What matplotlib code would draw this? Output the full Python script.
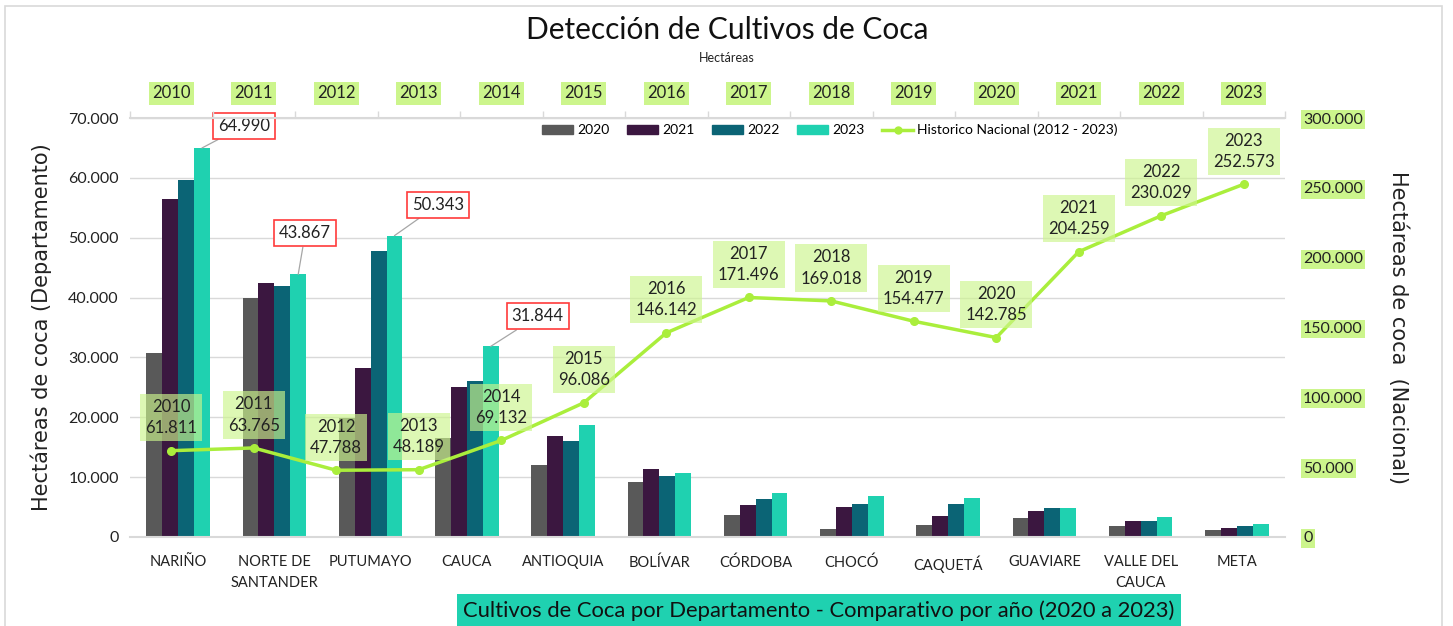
import numpy as np
import matplotlib
matplotlib.use("Agg")
import matplotlib.pyplot as plt
from matplotlib.patches import Rectangle
from matplotlib.lines import Line2D

# ---- data ----
departamentos = ["NARIÑO", "NORTE DE\nSANTANDER", "PUTUMAYO", "CAUCA", "ANTIOQUIA",
                 "BOLÍVAR", "CÓRDOBA", "CHOCÓ", "CAQUETÁ", "GUAVIARE",
                 "VALLE DEL\nCAUCA", "META"]
ha_2020 = [30700, 39900, 19800, 16500, 12000, 9200, 3700, 1300, 2000, 3200, 1800, 1100]
ha_2021 = [56400, 42400, 28200, 25000, 16900, 11400, 5400, 5000, 3500, 4300, 2600, 1500]
ha_2022 = [59700, 41900, 47800, 26100, 16000, 10200, 6300, 5500, 5500, 4800, 2600, 1800]
ha_2023 = [64990, 43867, 50343, 31844, 18700, 10700, 7400, 6800, 6500, 4800, 3300, 2100]

anios = ["2010", "2011", "2012", "2013", "2014", "2015", "2016",
         "2017", "2018", "2019", "2020", "2021", "2022", "2023"]
historico = [61811, 63765, 47788, 48189, 69132, 96086, 146142,
             171496, 169018, 154477, 142785, 204259, 230029, 252573]

series = [("2020", ha_2020, "#595959"), ("2021", ha_2021, "#3b1740"),
          ("2022", ha_2022, "#0b6475"), ("2023", ha_2023, "#1fd1b0")]
LIME = "#aaee3c"
LIME_BG = "#ccf58c"
FONT = "Lato"


def miles(v):
    return f"{v:,.0f}".replace(",", ".")


fig = plt.figure(figsize=(14.53, 6.26), dpi=100)
fig.patches.append(Rectangle((5 / 1453, -0.01), 1437 / 1453, 1 - 6 / 626 + 0.01,
                             transform=fig.transFigure, fill=False,
                             edgecolor="#d9d9d9", lw=1.2))

ax = fig.add_axes([130 / 1453, 1 - 537 / 626, 1155 / 1453, 419 / 626])
ax2 = ax.twinx()
ax3 = ax2.twiny()

# ---- bars (departamentos) ----
x = np.arange(len(departamentos))
w = 0.165
for i, (lab, vals, col) in enumerate(series):
    ax.bar(x + (i - 1.5) * w, vals, w, color=col, label=lab, zorder=2)

ax.set_xlim(-0.5, len(departamentos) - 0.5)
ax.set_ylim(0, 70000)
ax.set_yticks(np.arange(0, 70001, 10000))
ax.set_yticklabels([miles(v) for v in np.arange(0, 70001, 10000)],
                   fontsize=11.5, family=FONT, color="#222222")
ax.set_xticks(x)
ax.set_xticklabels(departamentos, fontsize=10.5, family=FONT, color="#222222",
                   linespacing=1.6)
ax.tick_params(axis="y", length=0, pad=8)
ax.tick_params(axis="x", length=0, pad=13)
ax.grid(axis="y", color="#d9d9d9", lw=1, zorder=0)
for s in ["left", "right", "top"]:
    ax.spines[s].set_visible(False)
ax.spines["bottom"].set_color("#d9d9d9")
ax.spines["bottom"].set_linewidth(1.5)
ax.set_ylabel("Hectáreas de coca (Departamento)", fontsize=15, color="#222222",
              labelpad=12)

# red data labels on 2023 bars
offsets = [(42, -22), (7, -41), (44, -31), (47, -30)]
for k, (dx, dy) in enumerate(offsets):
    xb = x[k] + 1.5 * w
    ax.annotate(miles(ha_2023[k]), xy=(xb, ha_2023[k]),
                xytext=(dx, -dy), textcoords="offset pixels",
                ha="center", va="center",
                fontsize=12, family=FONT, color="#222222",
                bbox=dict(boxstyle="square,pad=0.3", fc="white", ec="#ff3b3b", lw=1.2),
                arrowprops=dict(arrowstyle="-", color="#a6a6a6", lw=0.9,
                                shrinkA=0, shrinkB=0), zorder=5)

# ---- right axis (nacional) ----
ax2.set_ylim(0, 300000)
rticks = np.arange(0, 300001, 50000)
ax2.set_yticks(rticks)
ax2.set_yticklabels([miles(v) for v in rticks], fontsize=11.5, family=FONT,
                    color="#222222")
ax2.tick_params(axis="y", length=0, pad=13)
for lbl in ax2.get_yticklabels():
    lbl.set_bbox(dict(boxstyle="square,pad=0.15", fc=LIME_BG, ec="none"))
for s in ax2.spines.values():
    s.set_visible(False)
ax2.set_ylabel("Hectáreas de coca  (Nacional)", fontsize=15, color="#222222",
               rotation=270, labelpad=33)

# ---- line (historico nacional), top axis ----
xh = np.arange(len(anios))
ax3.set_xlim(-0.5, len(anios) - 0.5)
ax3.plot(xh, historico, color=LIME, lw=2.5, marker="o", ms=5.5,
         label="Historico Nacional (2012 - 2023)", zorder=4)
for xi, (a, v) in enumerate(zip(anios, historico)):
    ax3.annotate(f"{a}\n{miles(v)}", xy=(xi, v), xytext=(0, 33),
                 textcoords="offset pixels", ha="center", va="center",
                 fontsize=12, family=FONT, color="#222222", linespacing=1.4,
                 bbox=dict(boxstyle="square,pad=0.3", fc=LIME_BG, ec="none",
                           alpha=0.65), zorder=6)
ax3.set_xticks(xh)
ax3.set_xticklabels(anios, fontsize=12, family=FONT, color="#222222")
ax3.set_xticks(np.arange(-0.5, len(anios), 1), minor=True)
ax3.tick_params(axis="x", which="major", length=0, pad=12)
ax3.tick_params(axis="x", which="minor", length=5, color="#d9d9d9", width=1)
for lbl in ax3.get_xticklabels():
    lbl.set_bbox(dict(boxstyle="square,pad=0.2", fc=LIME_BG, ec="none"))
for s in ["left", "right", "bottom"]:
    ax3.spines[s].set_visible(False)
ax3.spines["top"].set_color("#d9d9d9")
ax3.spines["top"].set_linewidth(1.5)

# ---- legend ----
handles = [Rectangle((0, 0), 1, 1, color=c) for _, _, c in series]
handles.append(Line2D([], [], color=LIME, lw=2.5, marker="o", ms=5))
labels = [s[0] for s in series] + ["Historico Nacional (2012 - 2023)"]
leg = ax3.legend(handles, labels, loc="center", bbox_to_anchor=(0.606, 0.971),
                 ncol=5, frameon=False, prop={"family": FONT, "size": 10},
                 handlelength=2.2, handleheight=0.7, handletextpad=0.3,
                 columnspacing=1.3)
leg.set_zorder(7)

# ---- titles ----
fig.text(727 / 1453, 1 - 30 / 626, "Detección de Cultivos de Coca", ha="center",
         va="center", fontsize=21.5, family=FONT, color="#111111")
fig.text(727 / 1453, 1 - 58 / 626, "Hectáreas", ha="center", va="center",
         fontsize=9, family=FONT, color="#222222")
fig.text(819 / 1453, 1 - 611 / 626,
         "Cultivos de Coca por Departamento - Comparativo por año (2020 a 2023)",
         ha="center", va="center", fontsize=15.8, family=FONT, color="#111111",
         bbox=dict(boxstyle="square,pad=0.3", fc="#1fd1b0", ec="none"))

fig.savefig("out.png", dpi=100)
